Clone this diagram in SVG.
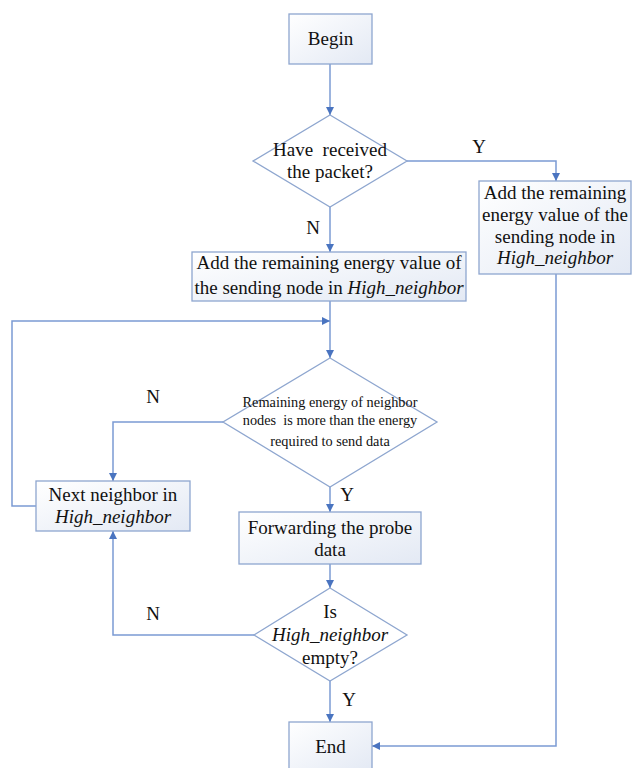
<svg xmlns="http://www.w3.org/2000/svg" width="632" height="768" viewBox="0 0 632 768">
<defs>
<linearGradient id="g" x1="0" y1="0" x2="1" y2="1">
<stop offset="0" stop-color="#ffffff"/>
<stop offset="1" stop-color="#e3e9f4"/>
</linearGradient>
<marker id="a" viewBox="0 0 10 10" refX="10" refY="5" markerWidth="8" markerHeight="8" markerUnits="userSpaceOnUse" orient="auto">
<path d="M0,0 L10,5 L0,10 Z" fill="#4a74c0"/>
</marker>
<style>
.box{fill:url(#g);stroke:#8ea6cf;stroke-width:1.3}
.dia{fill:#ffffff;stroke:#8ea6cf;stroke-width:1.3}
.t{font-family:"Liberation Serif","Times New Roman",serif;font-size:19px;fill:#111;text-anchor:middle}
.s{font-size:14.3px}
.i{font-style:italic}
.c{fill:none;stroke:#7b9bd3;stroke-width:1.5;marker-end:url(#a)}
.n{fill:none;stroke:#7b9bd3;stroke-width:1.5}
</style>
</defs>
<g id="connectors">
<path class="c" d="M330,64 V115"/>
<path class="c" d="M407,161 H556 V181"/>
<path class="c" d="M330,206 V252"/>
<path class="n" d="M330,301 V322"/>
<path class="c" d="M330,322 V358"/>
<path class="c" d="M36,506 H12 V321 H330"/>
<path class="c" d="M223,422 H113 V481"/>
<path class="c" d="M330,487 V512"/>
<path class="c" d="M330,564 V588"/>
<path class="c" d="M254,635 H113 V531"/>
<path class="c" d="M330,681 V722"/>
<path class="c" d="M556,274 V746 H372"/>
<text class="t" x="479" y="153">Y</text>
<text class="t" x="313" y="234">N</text>
<text class="t" x="153" y="403">N</text>
<text class="t" x="347" y="501">Y</text>
<text class="t" x="153" y="620">N</text>
<text class="t" x="349" y="706">Y</text>
</g>
<g id="begin">
<rect class="box" x="289" y="14" width="83" height="50"/>
<text class="t" x="330.5" y="45">Begin</text>
</g>
<g id="received">
<polygon class="dia" points="330,115 407,161 330,207 253,161"/>
<text class="t" x="330" y="156" xml:space="preserve">Have  received</text>
<text class="t" x="330" y="178">the packet?</text>
</g>
<g id="add-right">
<rect class="box" x="479" y="181" width="152" height="93"/>
<text class="t" x="555" y="199">Add the remaining</text>
<text class="t" x="555" y="221">energy value of the</text>
<text class="t" x="555" y="243">sending node in</text>
<text class="t i" x="555" y="264">High_neighbor</text>
</g>
<g id="add-main">
<rect class="box" x="192" y="252" width="274" height="49"/>
<text class="t" x="329" y="269">Add the remaining energy value of</text>
<text class="t" x="329" y="294">the sending node in <tspan class="i">High_neighbor</tspan></text>
</g>
<g id="energy-check">
<polygon class="dia" points="330,358 437,422 330,487 223,422"/>
<text class="t s" x="330" y="407">Remaining energy of neighbor</text>
<text class="t s" x="330" y="425" xml:space="preserve">nodes  is more than the energy</text>
<text class="t s" x="330" y="446">required to send data</text>
</g>
<g id="next-neighbor">
<rect class="box" x="36" y="481" width="154" height="50"/>
<text class="t" x="113" y="501">Next neighbor in</text>
<text class="t i" x="113" y="523">High_neighbor</text>
</g>
<g id="forward">
<rect class="box" x="239" y="512" width="182" height="52"/>
<text class="t" x="330" y="534">Forwarding the probe</text>
<text class="t" x="330" y="556">data</text>
</g>
<g id="empty-check">
<polygon class="dia" points="330,588 407,635 330,681 254,635"/>
<text class="t" x="330" y="618">Is</text>
<text class="t i" x="330" y="641">High_neighbor</text>
<text class="t" x="330" y="664">empty?</text>
</g>
<g id="end">
<rect class="box" x="289" y="722" width="83" height="50"/>
<text class="t" x="330.5" y="753">End</text>
</g>
</svg>
